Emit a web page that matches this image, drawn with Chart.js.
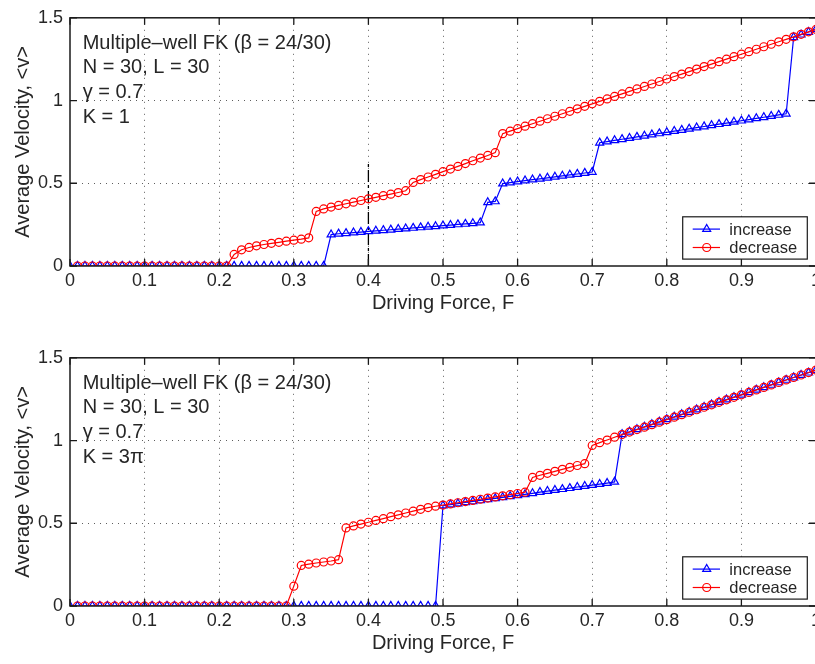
<!DOCTYPE html>
<html>
<head>
<meta charset="utf-8">
<script src="https://cdn.jsdelivr.net/npm/chart.js@4/dist/chart.umd.min.js"></script>
<style>
  html, body { margin: 0; padding: 0; background: #fff; overflow: hidden; width: 815px; height: 664px; }
  .wrap { position: absolute; left: 0; width: 832px; height: 332px; }
  #w1 { top: 0; }
  #w2 { top: 340px; }
</style>
</head>
<body>
<div class="wrap" id="w1"><canvas id="c1" width="832" height="332"></canvas></div>
<div class="wrap" id="w2"><canvas id="c2" width="832" height="332"></canvas></div>
<script>
// ---------------- data ----------------
const force = [0,0.01,0.02,0.03,0.04,0.05,0.06,0.07,0.08,0.09,
  0.10,0.11,0.12,0.13,0.14,0.15,0.16,0.17,0.18,0.19,
  0.20,0.21,0.22,0.23,0.24,0.25,0.26,0.27,0.28,0.29,
  0.30,0.31,0.32,0.33,0.34,0.35,0.36,0.37,0.38,0.39,
  0.40,0.41,0.42,0.43,0.44,0.45,0.46,0.47,0.48,0.49,
  0.50,0.51,0.52,0.53,0.54,0.55,0.56,0.57,0.58,0.59,
  0.60,0.61,0.62,0.63,0.64,0.65,0.66,0.67,0.68,0.69,
  0.70,0.71,0.72,0.73,0.74,0.75,0.76,0.77,0.78,0.79,
  0.80,0.81,0.82,0.83,0.84,0.85,0.86,0.87,0.88,0.89,
  0.90,0.91,0.92,0.93,0.94,0.95,0.96,0.97,0.98,0.99,1.00];

// K = 1, increasing force
const incK1 = [0,0,0,0,0,0,0,0,0,0, 0,0,0,0,0,0,0,0,0,0, 0,0,0,0,0,0,0,0,0,0, 0,0,0,0,0,
  0.190,0.195,0.198,0.202,0.205,0.209,0.212,0.216,0.219,0.223,0.226,0.230,0.233,0.237,0.240,0.244,0.247,0.251,0.254,0.258,0.262,
  0.385,0.390,
  0.498,0.504,0.510,0.516,0.522,0.527,0.533,0.539,0.545,0.551,0.556,0.562,0.568,
  0.745,0.752,0.759,0.766,0.773,0.780,0.787,0.794,0.801,0.808,0.815,0.822,0.829,0.836,0.843,0.850,0.857,0.864,0.871,0.878,0.885,0.892,0.899,0.906,0.913,0.920,
  1.382,1.398,1.414,1.430];
// K = 1, decreasing force
const decK1 = [null,
  0,0,0,0,0,0,0,0,0,0, 0,0,0,0,0,0,0,0,0,0, 0,
  0.070,0.098,0.112,0.122,0.130,0.137,0.143,0.150,0.156,0.162,0.170,
  0.330,0.345,0.356,0.366,0.376,0.386,0.396,0.406,0.415,0.425,0.434,0.444,0.455,
  0.505,0.522,0.538,0.554,0.570,0.586,0.602,0.619,0.636,0.652,0.668,0.685,
  0.800,0.815,0.830,0.845,0.860,0.875,0.890,0.905,0.920,0.935,0.950,0.965,0.980,0.995,1.010,1.025,1.040,1.055,1.070,1.085,1.100,1.115,
  1.130,1.145,1.160,1.175,1.190,1.205,1.220,1.235,1.250,1.265,1.280,1.295,1.310,1.325,1.340,1.355,1.370,1.385,1.400,1.415,1.430];
// K = 3π, increasing force
const incK3 = [0,0,0,0,0,0,0,0,0,0, 0,0,0,0,0,0,0,0,0,0, 0,0,0,0,0,0,0,0,0,0, 0,0,0,0,0,0,0,0,0,0, 0,0,0,0,0,0,0,0,0,0,
  0.607,0.613,0.619,0.626,0.632,0.638,0.644,0.650,0.657,0.663,0.669,0.675,0.681,0.688,0.694,0.700,0.706,0.712,0.719,0.725,0.731,0.737,0.743,0.750,
  1.038,1.053,1.068,1.083,1.098,1.113,1.128,1.143,1.158,1.172,1.187,1.202,1.217,1.232,1.247,1.262,1.276,1.291,1.306,1.321,1.336,1.351,1.366,1.381,1.395,1.410,1.425];
// K = 3π, decreasing force
const decK3 = [null,
  0,0,0,0,0,0,0,0,0,0, 0,0,0,0,0,0,0,0,0,0, 0,0,0,0,0,0,0,0,0,
  0.120,0.245,0.253,0.260,0.266,0.272,0.280,
  0.472,0.484,0.495,0.506,0.517,0.528,0.540,0.551,0.562,0.573,0.584,0.595,0.603,
  0.610,0.617,0.624,0.631,0.638,0.645,0.652,0.659,0.666,0.673,0.680,0.688,
  0.777,0.790,0.802,0.814,0.826,0.838,0.849,0.860,
  0.970,0.987,1.003,1.020,
  1.036,1.051,1.066,1.081,1.096,1.111,1.126,1.141,1.156,1.171,1.186,1.201,1.216,1.231,1.246,1.261,1.276,1.291,1.306,1.321,1.336,1.351,1.366,1.381,1.396,1.411,1.426];

// dash-dot marker line at F = 0.4 (top panel)
const markF = [0.4, 0.4];
const markV = [0, 0.63];

const seriesLabels = ['increase', 'decrease'];
const xTitle = 'Driving Force, F';
const yTitle = 'Average Velocity, <v>';
const notesK1 = ['Multiple\u2013well FK (\u03b2 = 24/30)', 'N = 30, L = 30', '\u03b3 = 0.7', 'K = 1'];
const notesK3 = ['Multiple\u2013well FK (\u03b2 = 24/30)', 'N = 30, L = 30', '\u03b3 = 0.7', 'K = 3\u03c0'];
const xTicks = [0,0.1,0.2,0.3,0.4,0.5,0.6,0.7,0.8,0.9,1];
const yTicks = [0,0.5,1,1.5];

// ---------------- styling ----------------
const FONT = '"Liberation Sans", Arial, Helvetica, sans-serif';
const TXT = '#262626';
const BLUE = '#0000ff';
const RED = '#ff0000';

function pts(xs, ys) { return xs.map((x, i) => ({ x: x, y: ys[i] })); }

function drawMarker(ctx, style, x, y, r, color, lw) {
  ctx.save();
  ctx.strokeStyle = color; ctx.lineWidth = lw;
  ctx.beginPath();
  if (style === 'triangle') {
    for (let k = 0; k < 3; k++) {
      const a = k * 2 * Math.PI / 3;
      const px = x + Math.sin(a) * r, py = y - Math.cos(a) * r;
      if (k === 0) ctx.moveTo(px, py); else ctx.lineTo(px, py);
    }
    ctx.closePath();
  } else {
    ctx.arc(x, y, r, 0, Math.PI * 2);
  }
  ctx.stroke();
  ctx.restore();
}

const framePlugin = {
  id: 'frame',
  afterDatasetsDraw(chart, args, opts) {
    const { ctx, chartArea: a, scales } = chart;
    ctx.save();
    ctx.strokeStyle = '#1a1a1a';
    ctx.lineWidth = 1.3;
    const tl = 7;
    ctx.beginPath();
    scales.x.ticks.forEach(t => {
      const px = scales.x.getPixelForValue(t.value);
      ctx.moveTo(px, a.bottom); ctx.lineTo(px, a.bottom - tl);
      ctx.moveTo(px, a.top); ctx.lineTo(px, a.top + tl);
    });
    scales.y.ticks.forEach(t => {
      const py = scales.y.getPixelForValue(t.value);
      ctx.moveTo(a.left, py); ctx.lineTo(a.left + tl, py);
      ctx.moveTo(a.right, py); ctx.lineTo(a.right - tl, py);
    });
    ctx.stroke();
    ctx.lineWidth = 1.5;
    ctx.strokeRect(a.left, a.top, a.right - a.left, a.bottom - a.top);
    ctx.restore();
  },
  afterDraw(chart, args, opts) {
    const { ctx, chartArea: a } = chart;
    // annotation text
    ctx.save();
    ctx.fillStyle = TXT;
    ctx.font = '20px ' + FONT;
    ctx.textBaseline = 'alphabetic';
    ctx.textAlign = 'left';
    opts.notes.forEach((s, i) => ctx.fillText(s, a.left + 12.7, a.top + 30.7 + i * 24.9));
    // legend
    const bx = 682.7, by = a.top + 199, bw = 124.6, bh = 42.3;
    ctx.fillStyle = '#fff';
    ctx.fillRect(bx, by, bw, bh);
    ctx.strokeStyle = '#1a1a1a';
    ctx.lineWidth = 1.2;
    ctx.strokeRect(bx, by, bw, bh);
    const ds = chart.data.datasets;
    const rows = [by + 12.3, by + 30.7];
    [0, 1].forEach(j => {
      const d = ds[j];
      const y = rows[j];
      ctx.strokeStyle = d.borderColor; ctx.lineWidth = d.borderWidth;
      ctx.beginPath(); ctx.moveTo(bx + 10, y); ctx.lineTo(bx + 37.3, y); ctx.stroke();
      drawMarker(ctx, d.pointStyle, bx + 24, y, d.pointRadius, d.borderColor, d.pointBorderWidth);
      ctx.fillStyle = TXT;
      ctx.font = '16.5px ' + FONT;
      ctx.textBaseline = 'middle';
      ctx.fillText(d.label, bx + 46.6, y + 1);
    });
    ctx.restore();
  }
};

function fmt(v) { return String(Math.round(v * 10) / 10); }

function makeChart(id, inc, dec, notes, withMark) {
  const datasets = [
    { label: seriesLabels[0], data: pts(force, inc), borderColor: BLUE, backgroundColor: 'rgba(0,0,0,0)',
      pointStyle: 'triangle', pointRadius: 4.6, pointBorderWidth: 1.2, pointBackgroundColor: 'rgba(0,0,0,0)',
      borderWidth: 1.2, order: 2 },
    { label: seriesLabels[1], data: pts(force, dec), borderColor: RED, backgroundColor: 'rgba(0,0,0,0)',
      pointStyle: 'circle', pointRadius: 4.0, pointBorderWidth: 1.2, pointBackgroundColor: 'rgba(0,0,0,0)',
      borderWidth: 1.2, order: 1 }
  ];
  if (withMark) {
    datasets.push({ label: 'mark', data: pts(markF, markV), borderColor: '#000', borderWidth: 1.3,
      borderDash: [12, 3, 3, 3], pointRadius: 0, order: 3 });
  }
  return new Chart(document.getElementById(id), {
    type: 'line',
    data: { datasets },
    options: {
      responsive: false,
      animation: false,
      events: [],
      layout: { padding: { top: 17, left: 0, right: 16, bottom: 0 } },
      plugins: { legend: { display: false }, tooltip: { enabled: false }, frame: { notes } },
      elements: { line: { tension: 0 } },
      scales: {
        x: {
          type: 'linear', min: 0, max: 1,
          afterFit: s => { s.height = 66; },
          afterBuildTicks: s => { s.ticks = xTicks.map(v => ({ value: v })); },
          ticks: { color: TXT, font: { family: FONT, size: 18 }, padding: 4, maxRotation: 0, autoSkip: false, callback: fmt },
          grid: { drawTicks: false, lineWidth: 1,
            color: c => (c.tick && (c.tick.value === 0 || c.tick.value === 1)) ? 'rgba(0,0,0,0)' : 'rgba(40,40,40,0.75)' },
          border: { display: false, dash: [1, 5] },
          title: { display: true, text: xTitle, color: TXT, font: { family: FONT, size: 20 }, padding: { top: 0, bottom: 17 } }
        },
        y: {
          type: 'linear', min: 0, max: 1.5,
          afterFit: s => { s.width = 70; },
          afterBuildTicks: s => { s.ticks = yTicks.map(v => ({ value: v })); },
          ticks: { color: TXT, font: { family: FONT, size: 18 }, padding: 7, callback: fmt },
          grid: { drawTicks: false, lineWidth: 1,
            color: c => (c.tick && (c.tick.value === 0 || c.tick.value === 1.5)) ? 'rgba(0,0,0,0)' : 'rgba(40,40,40,0.75)' },
          border: { display: false, dash: [1, 5] },
          title: { display: true, text: yTitle, color: TXT, font: { family: FONT, size: 20 }, padding: { top: 11, bottom: 0 } }
        }
      }
    },
    plugins: [framePlugin]
  });
}

makeChart('c1', incK1, decK1, notesK1, true);
makeChart('c2', incK3, decK3, notesK3, false);
</script>
</body>
</html>
